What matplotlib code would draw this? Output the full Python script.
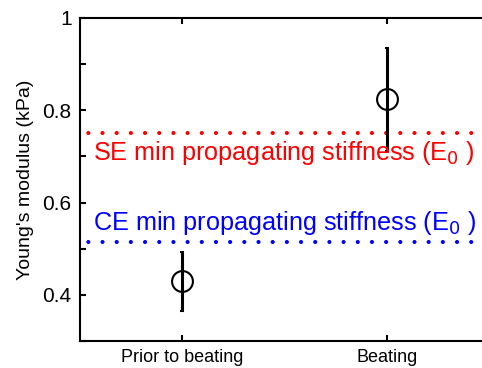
import matplotlib.pyplot as plt

plt.rcParams['font.family'] = ['Liberation Sans', 'DejaVu Sans']
plt.rcParams['lines.scale_dashes'] = False

# data
groups = ['Prior to beating', 'Beating']
means = [0.43, 0.824]
err_low = [0.365, 0.711]
err_high = [0.492, 0.934]
se_min = 0.750
ce_min = 0.515
yticks = [0.3, 0.4, 0.5, 0.6, 0.7, 0.8, 0.9, 1.0]
ytick_labels = ['', '0.4', '', '0.6', '', '0.8', '', '1']

x = list(range(1, len(groups) + 1))
lower = [m - lo for m, lo in zip(means, err_low)]
upper = [hi - m for m, hi in zip(means, err_high)]

fig = plt.figure(figsize=(4.82, 3.68), dpi=100)
ax = fig.add_axes([0.166, 0.0734, 0.849, 0.878])

ax.axhline(se_min, color='red', linestyle=(-6, (0.01, 10.2)), lw=3,
           dash_capstyle='round', zorder=1)
ax.axhline(ce_min, color='blue', linestyle=(-6, (0.01, 10.2)), lw=3,
           dash_capstyle='round', zorder=1)

ax.errorbar(x, means, yerr=[lower, upper], fmt='o', color='black',
            mfc='none', mec='black', ms=15, mew=1.5, elinewidth=2.2,
            capsize=1.5, capthick=2, zorder=3)

ax.text(0.563, 0.692, 'SE min propagating stiffness (E$_0$ )', color='red',
        fontsize=18.2, va='baseline', ha='left')
ax.text(0.563, 0.5415, 'CE min propagating stiffness (E$_0$ )', color='blue',
        fontsize=18.2, va='baseline', ha='left')

ax.set_xlim(0.5, 2.5)
ax.set_ylim(0.3, 1.0)
ax.set_xticks(x)
ax.set_xticklabels(groups, fontsize=13)
ax.set_yticks(yticks)
ax.set_yticklabels(ytick_labels, fontsize=15)
ax.set_ylabel("Young's modulus (kPa)", fontsize=14, labelpad=6)

ax.tick_params(direction='in', length=4, width=1.5, top=True, right=True, pad=6)
for s in ax.spines.values():
    s.set_linewidth(1.5)

fig.savefig('out.png', dpi=100)
